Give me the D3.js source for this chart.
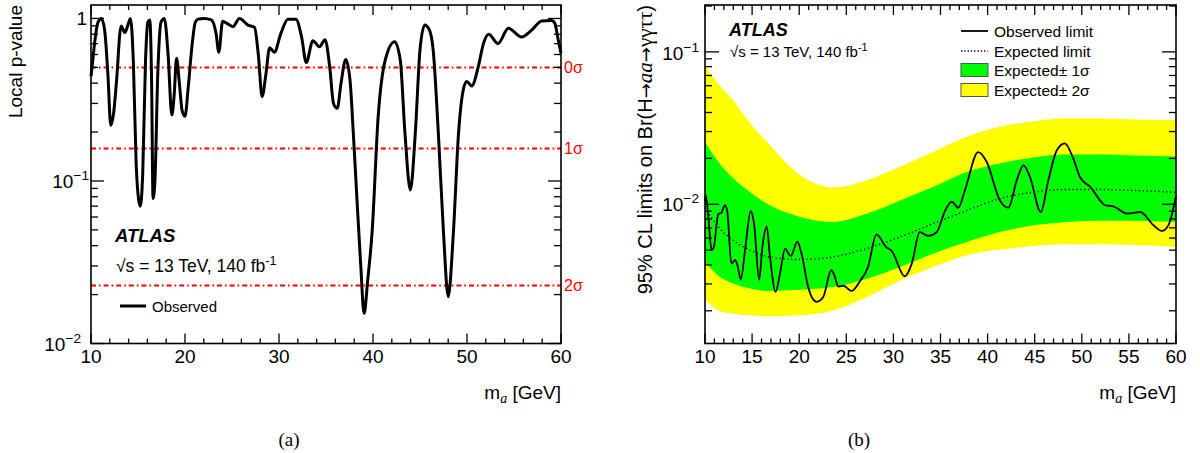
<!DOCTYPE html>
<html><head><meta charset="utf-8">
<script src="https://cdn.jsdelivr.net/npm/d3@7"></script>
<style>
body{margin:0;background:#fff;}
svg{display:block;font-family:"Liberation Sans",Arial,Helvetica,sans-serif;}
</style></head>
<body>
<svg id="c" width="1200" height="453"></svg>
<script>
// ---------- Panel (a): local p-value ----------
const pMass = [10,10.2,10.4,10.75,11.1,11.45,11.8,12.1,12.4,12.7,13.2,13.6,13.9,14.2,14.5,14.8,15.05,15.25,15.5,15.8,16.05,16.25,16.45,16.6,16.8,17.1,17.45,17.8,18.2,18.6,18.85,19.1,19.4,19.7,20.0,20.35,20.7,21.1,21.4,22.0,22.8,23.3,23.6,24.0,24.5,25.1,25.8,26.7,27.4,27.8,28.2,28.6,29.0,29.5,30.2,30.95,31.8,32.4,32.9,33.6,34.3,34.9,35.4,35.8,36.2,36.6,37.1,37.55,37.9,38.3,38.7,39.05,39.45,39.9,40.55,41.3,42.3,42.9,43.4,43.97,44.5,45.0,45.5,46.0,46.4,46.95,47.5,48.0,48.55,49.1,49.6,49.97,50.5,51.2,51.75,52.3,53.3,54.4,55.8,56.9,57.95,59.0,59.35,59.7,60];
const pValue = [0.44,0.56,0.72,0.95,1.0,0.85,0.45,0.22,0.26,0.40,0.90,0.82,0.90,1.0,0.55,0.13,0.078,0.07,0.11,0.55,0.95,0.98,0.4,0.078,0.10,0.45,0.95,1.0,0.6,0.255,0.34,0.57,0.40,0.27,0.25,0.38,0.64,0.95,0.99,1.0,0.98,0.81,0.62,0.96,0.93,0.89,1.0,0.91,0.88,0.60,0.33,0.45,0.66,0.62,0.81,0.99,0.99,0.77,0.535,0.73,0.67,0.74,0.50,0.30,0.28,0.40,0.56,0.42,0.20,0.076,0.03,0.0153,0.025,0.048,0.249,0.555,0.72,0.555,0.197,0.088,0.197,0.64,0.91,0.85,0.64,0.197,0.048,0.0194,0.048,0.197,0.363,0.41,0.384,0.505,0.70,0.80,0.70,0.87,0.77,0.85,0.965,0.97,0.93,0.74,0.61];
const sigmaValues = [0.5, 0.1587, 0.02275];
const sigmaLabels = ["0σ","1σ","2σ"];
const aXTicks = [10,20,30,40,50,60];

// ---------- Panel (b): 95% CL limits ----------
const bandMass   = [10,11.4,13,14.8,16.55,20.1,23.6,27.2,30.7,34.2,37.8,41.3,44.85,48.4,51.9,55.5,60];
const yellowHigh = [0.0818,0.062,0.048,0.034,0.0257,0.0155,0.0129,0.0144,0.0176,0.022,0.0277,0.0322,0.0351,0.0365,0.0365,0.036,0.0356];
const greenHigh  = [0.0257,0.019,0.0148,0.012,0.0101,0.00826,0.00766,0.00869,0.0106,0.0130,0.0163,0.0185,0.0203,0.0212,0.0212,0.0209,0.0206];
const expected   = [0.0095,0.00713,0.0058,0.00499,0.00456,0.00434,0.00451,0.00513,0.0061,0.00746,0.0091,0.0109,0.0120,0.0125,0.0125,0.0123,0.0120];
const greenLow   = [0.00418,0.0034,0.00302,0.0028,0.0027,0.00275,0.00287,0.00325,0.00388,0.00474,0.00565,0.00657,0.00727,0.00766,0.0078,0.0078,0.00766];
const yellowLow  = [0.0024,0.00201,0.00191,0.00187,0.00184,0.00187,0.00201,0.00246,0.00316,0.00387,0.00463,0.00504,0.00532,0.00546,0.00546,0.0054,0.00525];
const obsMass  = [10,10.1,10.35,10.7,10.95,11.4,11.75,12.1,12.35,12.8,13.2,13.45,13.8,14.25,14.85,15.2,15.75,16.1,16.55,16.9,17.5,17.95,18.5,19.1,19.8,20.25,20.95,21.85,22.55,23.4,23.7,24.15,24.7,25.55,26.45,27.3,28.2,29.25,29.8,31.2,31.95,32.8,33.7,34.6,35.5,36.2,36.9,37.6,39.0,39.9,41.3,42.2,43.1,43.8,44.5,45.65,46.45,47.35,48.2,49.1,49.8,50.9,52.5,53.35,54.8,56.2,57.6,58.5,59.2,59.9,60];
const obsLimit = [0.0105,0.0114,0.00826,0.005,0.00528,0.0086,0.0088,0.00984,0.0091,0.00408,0.0043,0.00398,0.0032,0.00499,0.0090,0.00755,0.0032,0.0053,0.00713,0.00451,0.00266,0.00347,0.00512,0.00457,0.00568,0.00474,0.00287,0.00229,0.00246,0.00369,0.00347,0.00288,0.00292,0.0027,0.00313,0.00387,0.00635,0.00522,0.00497,0.00337,0.00408,0.00657,0.0062,0.00657,0.0091,0.0104,0.0095,0.0124,0.0220,0.0190,0.0106,0.0095,0.0144,0.018,0.0151,0.0089,0.0144,0.0226,0.0251,0.0199,0.0151,0.0130,0.00985,0.0097,0.00869,0.0089,0.0073,0.00668,0.0073,0.0106,0.0114];
const bXTicks = [10,15,20,25,30,35,40,45,50,55,60];
const legendLabels = ["Observed limit","Expected limit","Expected\u00b1 1\u03c3","Expected\u00b1 2\u03c3"];

const svg = d3.select("#c");

function supLabel(g, x, y, base, sup, anchor, size){
  const t = g.append("text").attr("x",x).attr("y",y).attr("text-anchor",anchor)
    .attr("font-size",size).attr("fill","#000");
  t.append("tspan").text(base);
  if(sup!==null){ t.append("tspan").attr("dy",-size*0.4).attr("font-size",size*0.72).text(sup); }
  return t;
}

function frame(g, x, y, tickMajX, tickMinX, yMajor, yMinor, xMajLen, xMinLen, yMajLen, yMinLen){
  const [x0,x1]=x.range(), [y1,y0]=y.range();
  const tk = g.append("g").attr("stroke","#000").attr("stroke-width",1.3);
  tickMajX.forEach(v=>{const px=x(v);
    tk.append("line").attr("x1",px).attr("x2",px).attr("y1",y1).attr("y2",y1-xMajLen);
    tk.append("line").attr("x1",px).attr("x2",px).attr("y1",y0).attr("y2",y0+xMajLen);});
  tickMinX.forEach(v=>{const px=x(v);
    tk.append("line").attr("x1",px).attr("x2",px).attr("y1",y1).attr("y2",y1-xMinLen);
    tk.append("line").attr("x1",px).attr("x2",px).attr("y1",y0).attr("y2",y0+xMinLen);});
  yMajor.forEach(v=>{const py=y(v);
    tk.append("line").attr("x1",x0).attr("x2",x0+yMajLen).attr("y1",py).attr("y2",py);
    tk.append("line").attr("x1",x1).attr("x2",x1-yMajLen).attr("y1",py).attr("y2",py);});
  yMinor.forEach(v=>{const py=y(v);
    tk.append("line").attr("x1",x0).attr("x2",x0+yMinLen).attr("y1",py).attr("y2",py);
    tk.append("line").attr("x1",x1).attr("x2",x1-yMinLen).attr("y1",py).attr("y2",py);});
  g.append("rect").attr("x",x0).attr("y",y0).attr("width",x1-x0).attr("height",y1-y0)
    .attr("fill","none").attr("stroke","#000").attr("stroke-width",1.6);
}

// ===== Panel (a) =====
{
  const g = svg.append("g");
  const x = d3.scaleLinear().domain([10,60]).range([91,561]);
  const y = d3.scaleLog().domain([0.01,1.21]).range([343.5,5]);
  const minorX = d3.range(10,61,2).filter(v=>v%10!==0);
  const yMin = [];
  [0.01,0.1].forEach(d=>{for(let k=2;k<=9;k++){ if(d*k<=1.21) yMin.push(d*k);} });
  sigmaValues.forEach((s,i)=>{
    g.append("line").attr("x1",x(10)).attr("x2",x(60)).attr("y1",y(s)).attr("y2",y(s))
      .attr("stroke","#ff0000").attr("stroke-width",2).attr("stroke-dasharray","5,3,1.6,3");
    g.append("text").attr("x",x(60)+3).attr("y",y(s)+6).attr("fill","#ff0000")
      .attr("font-size",16).text(sigmaLabels[i]);
  });
  const line = d3.line().x((d,i)=>x(pMass[i])).y(d=>y(d)).curve(d3.curveMonotoneX);
  g.append("path").attr("d",line(pValue)).attr("fill","none").attr("stroke","#000")
    .attr("stroke-width",3).attr("stroke-linejoin","round");
  frame(g,x,y,aXTicks,minorX,[0.01,0.1,1],yMin,10,5,13,7);
  aXTicks.forEach(v=>g.append("text").attr("x",x(v)).attr("y",363).attr("text-anchor","middle")
    .attr("font-size",19).text(v));
  g.append("text").attr("x",87).attr("y",25).attr("text-anchor","end").attr("font-size",19).text("1");
  supLabel(g,89,188,"10","\u22121","end",19);
  supLabel(g,81,351,"10","\u22122","end",19);
  g.append("text").attr("transform","translate(22,5) rotate(-90)").attr("text-anchor","end")
    .attr("font-size",19).text("Local p-value");
  const xl = g.append("text").attr("x",561).attr("y",399).attr("text-anchor","end").attr("font-size",19);
  xl.append("tspan").text("m");
  xl.append("tspan").attr("dy",4).attr("font-size",14).attr("font-style","italic")
    .attr("font-family","'Liberation Serif',serif").text("a");
  xl.append("tspan").attr("dy",-4).text(" [GeV]");
  g.append("text").attr("x",115).attr("y",242).attr("font-size",18.5).attr("font-weight","bold")
    .attr("font-style","italic").text("ATLAS");
  const sq = g.append("text").attr("x",116).attr("y",272).attr("font-size",17.5);
  sq.append("tspan").text("\u221As = 13 TeV, 140 fb");
  sq.append("tspan").attr("dy",-7).attr("font-size",12.5).text("-1");
  g.append("line").attr("x1",120).attr("x2",146).attr("y1",306).attr("y2",306)
    .attr("stroke","#000").attr("stroke-width",3);
  g.append("text").attr("x",152).attr("y",312).attr("font-size",15).text("Observed");
  g.append("text").attr("x",289).attr("y",446).attr("text-anchor","middle").attr("font-size",19)
    .attr("font-family","'Liberation Serif','Times New Roman',serif").text("(a)");
}

// ===== Panel (b) =====
{
  const g = svg.append("g");
  const x = d3.scaleLinear().domain([10,60]).range([705,1176]);
  const y = d3.scaleLog().domain([0.00122,0.203]).range([343.5,5]);
  const minorX = d3.range(10,61,1).filter(v=>v%5!==0);
  const yMin = [];
  [0.001,0.01,0.1].forEach(d=>{for(let k=2;k<=9;k++){ const v=d*k; if(v>=0.00122&&v<=0.203) yMin.push(v);} });
  const area = (lo,hi)=>d3.area().x((d,i)=>x(bandMass[i])).y0((d,i)=>y(lo[i])).y1((d,i)=>y(hi[i])).curve(d3.curveMonotoneX);
  g.append("path").attr("d",area(yellowLow,yellowHigh)(bandMass)).attr("fill","#ffff00");
  g.append("path").attr("d",area(greenLow,greenHigh)(bandMass)).attr("fill","#00ff00");
  const eline = d3.line().x((d,i)=>x(bandMass[i])).y(d=>y(d)).curve(d3.curveMonotoneX);
  g.append("path").attr("d",eline(expected)).attr("fill","none").attr("stroke","#000")
    .attr("stroke-width",1.4).attr("stroke-dasharray","1.3,2.6");
  const oline = d3.line().x((d,i)=>x(obsMass[i])).y(d=>y(d)).curve(d3.curveMonotoneX);
  g.append("path").attr("d",oline(obsLimit)).attr("fill","none").attr("stroke","#000")
    .attr("stroke-width",1.8).attr("stroke-linejoin","round");
  frame(g,x,y,bXTicks,minorX,[0.01,0.1],yMin,10,5,14,7);
  bXTicks.forEach(v=>g.append("text").attr("x",x(v)).attr("y",363).attr("text-anchor","middle")
    .attr("font-size",19).text(v));
  supLabel(g,699,60,"10","\u22121","end",19);
  supLabel(g,699,211,"10","\u22122","end",19);
  const yl = g.append("text").attr("transform","translate(652,5) rotate(-90)").attr("text-anchor","end")
    .attr("font-size",20);
  yl.append("tspan").text("95% CL limits on Br(H");
  yl.append("tspan").attr("font-family","'DejaVu Sans',sans-serif").attr("font-size",18).text("\u2192");
  yl.append("tspan").attr("font-style","italic").attr("font-family","'Liberation Serif',serif").attr("font-size",21).text("aa");
  yl.append("tspan").attr("font-family","'DejaVu Sans',sans-serif").attr("font-size",18).text("\u2192");
  yl.append("tspan").attr("font-family","'Liberation Serif',serif").attr("font-size",21).text("\u03b3\u03b3\u03c4\u03c4");
  yl.append("tspan").text(")");
  const xl = g.append("text").attr("x",1176).attr("y",399).attr("text-anchor","end").attr("font-size",19);
  xl.append("tspan").text("m");
  xl.append("tspan").attr("dy",4).attr("font-size",14).attr("font-style","italic")
    .attr("font-family","'Liberation Serif',serif").text("a");
  xl.append("tspan").attr("dy",-4).text(" [GeV]");
  g.append("text").attr("x",729).attr("y",36).attr("font-size",18).attr("font-weight","bold")
    .attr("font-style","italic").text("ATLAS");
  const sq = g.append("text").attr("x",730).attr("y",57).attr("font-size",15);
  sq.append("tspan").text("\u221As = 13 TeV, 140 fb");
  sq.append("tspan").attr("dy",-6).attr("font-size",11).text("-1");
  const ly = [31,51,70,90];
  g.append("line").attr("x1",961).attr("x2",988).attr("y1",ly[0]).attr("y2",ly[0]).attr("stroke","#000").attr("stroke-width",1.8);
  g.append("line").attr("x1",961).attr("x2",988).attr("y1",ly[1]).attr("y2",ly[1]).attr("stroke","#000").attr("stroke-width",1.3).attr("stroke-dasharray","1.3,2");
  g.append("rect").attr("x",961).attr("y",ly[2]-6.5).attr("width",27).attr("height",13).attr("fill","#00ff00").attr("stroke","#555").attr("stroke-width",1);
  g.append("rect").attr("x",961).attr("y",ly[3]-6.5).attr("width",27).attr("height",13).attr("fill","#ffff00").attr("stroke","#555").attr("stroke-width",1);
  legendLabels.forEach((t,i)=>g.append("text").attr("x",994).attr("y",ly[i]+5.5).attr("font-size",15.5).text(t));
  g.append("text").attr("x",859).attr("y",446).attr("text-anchor","middle").attr("font-size",19)
    .attr("font-family","'Liberation Serif','Times New Roman',serif").text("(b)");
}
</script>
</body></html>
